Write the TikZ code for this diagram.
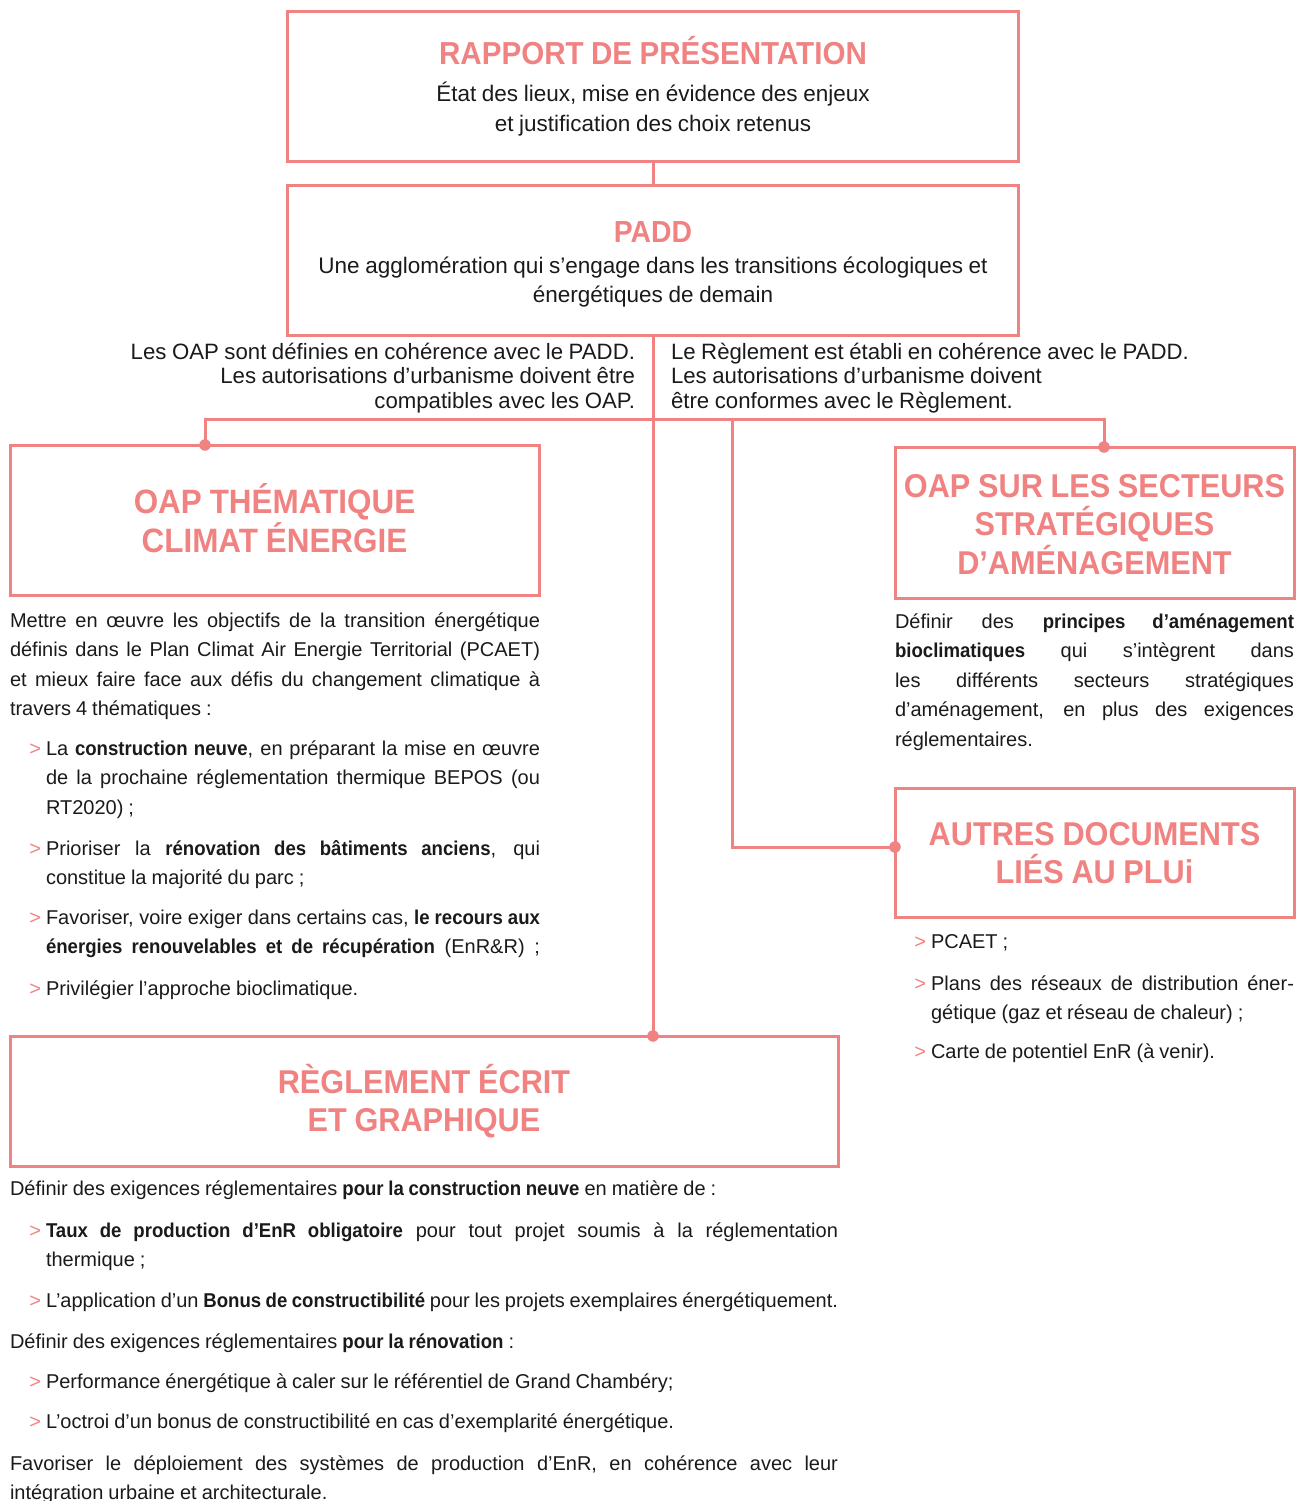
\documentclass[tikz,border=0pt]{standalone}
\usepackage{fontspec}
\setmainfont{Liberation Sans}[WordSpace=0.9, BoldFeatures={FakeStretch=0.93}]
\definecolor{coral}{RGB}{240,130,130}
\definecolor{ink}{RGB}{26,26,26}
\newcommand\titlefont{\fontsize{33}{38.5}\selectfont\bfseries}
\newcommand\titlefontbig{\fontsize{33.8}{39}\selectfont\bfseries}
\newcommand\titlefontrap{\fontsize{31.8}{34}\selectfont\bfseries}
\newcommand\titlefontsm{\fontsize{30.5}{34}\selectfont\bfseries}
\newcommand\subfont{\fontsize{22.5}{29.5}\selectfont}
\newcommand\connfont{\fontsize{22.2}{24.5}\selectfont}
\newcommand\bodyfont{\fontsize{20}{29.5}\selectfont}
\newcommand\blk[2]{\vtop{\hsize=#1pt\relax\parindent=0pt #2}}
\newcommand\jl[1]{\hbox to \hsize{#1}}
\newcommand\lastl[1]{\hbox to \hsize{#1\hfil}}
\newcommand\ctr[1]{\hbox to \hsize{\hfil#1\hfil}}
\newcommand\rgt[1]{\hbox to \hsize{\hfil#1}}
\newcommand\mybul{\llap{\textcolor{coral}{>}\hspace{5pt}}}
\begin{document}
\begin{tikzpicture}[x=1pt,y=-1pt,
  box/.style={draw=coral,line width=3pt,inner sep=0,outer sep=0},
  ttl/.style={text=coral,font=\titlefont,inner sep=0,outer sep=0},
  ttlbig/.style={text=coral,font=\titlefontbig,inner sep=0,outer sep=0},
  ttlrap/.style={text=coral,font=\titlefontrap,inner sep=0,outer sep=0},
  ttlsm/.style={text=coral,font=\titlefontsm,inner sep=0,outer sep=0},
  sub/.style={text=ink,font=\subfont,inner sep=0,outer sep=0},
  cnt/.style={text=ink,font=\connfont,inner sep=0,outer sep=0},
  txt/.style={text=ink,font=\bodyfont,inner sep=0,outer sep=0},
  conn/.style={draw=coral,line width=3pt},
  dot/.style={circle,fill=coral,inner sep=0,minimum size=11.5pt}]
\useasboundingbox (0,0) rectangle (1296,1501);

% boxes
\node[box,minimum width=731pt,minimum height=149pt] (rapport) at (653,86.5) {};
\node[box,minimum width=731pt,minimum height=150pt] (padd) at (653,260) {};
\node[box,minimum width=529pt,minimum height=150pt] (oapt) at (274.5,520) {};
\node[box,minimum width=399pt,minimum height=151pt] (oaps) at (1094.5,522.5) {};
\node[box,minimum width=399pt,minimum height=129pt] (autres) at (1094.5,852.5) {};
\node[box,minimum width=828pt,minimum height=130pt] (reg) at (424,1101) {};

% titles inside boxes
\node[ttlrap,anchor=base] (rapportT) at (653,65) {RAPPORT DE PRÉSENTATION};
\node[sub,anchor=base] (rapportS) at (653,102) {\blk{720}{\ctr{État des lieux, mise en évidence des enjeux}\ctr{et justification des choix retenus}}};
\node[ttlsm,anchor=base] (paddT) at (653,242) {PADD};
\node[sub,anchor=base] (paddS) at (653,273) {\blk{720}{\ctr{Une agglomération qui s’engage dans les transitions écologiques et}\ctr{énergétiques de demain}}};
\node[ttlbig,anchor=base] (oaptT) at (274.5,513) {\blk{520}{\ctr{OAP THÉMATIQUE}\ctr{CLIMAT ÉNERGIE}}};
\node[ttl,anchor=base] (oapsT) at (1094.5,497) {\blk{396}{\ctr{OAP SUR LES SECTEURS}\ctr{STRATÉGIQUES}\ctr{D’AMÉNAGEMENT}}};
\node[ttl,anchor=base] (autresT) at (1094.5,845) {\blk{396}{\ctr{AUTRES DOCUMENTS}\ctr{LIÉS AU PLUi}}};
\node[ttl,anchor=base] (regT) at (424,1093) {\blk{800}{\ctr{RÈGLEMENT ÉCRIT}\ctr{ET GRAPHIQUE}}};

% connector texts
\node[cnt,anchor=base east] (leftC) at (635,359) {\blk{520}{\rgt{Les OAP sont définies en cohérence avec le PADD.}\rgt{Les autorisations d’urbanisme doivent être}\rgt{compatibles avec les OAP.}}};
\node[cnt,anchor=base west] (rightC) at (671,359) {\blk{570}{\lastl{Le Règlement est établi en cohérence avec le PADD.}\lastl{Les autorisations d’urbanisme doivent}\lastl{être conformes avec le Règlement.}}};

% connectors
\coordinate (busL) at (205,419);
\coordinate (busR) at (1104,419);
\coordinate (branch) at (732,419);
\coordinate (regdot) at (padd.south |- reg.north);
\coordinate (oaptdot) at (oapt.north -| busL);
\coordinate (oapsdot) at (oaps.north -| busR);
\coordinate (adot) at ([yshift=5.5pt]autres.west);
\draw[conn] (rapport.south) -- (padd.north);
\draw[conn] (padd.south) -- (regdot);
\draw[conn] (oaptdot) -- (busL) -- (busR) -- (oapsdot);
\draw[conn] (branch) |- (adot);
\node[dot] (d1) at (oaptdot) {};
\node[dot] (d2) at (oapsdot) {};
\node[dot] (d3) at (adot) {};
\node[dot] (d4) at (regdot) {};

% OAP thematique text
\node[txt,anchor=base west] (p1) at (10,627) {\blk{530}{\jl{Mettre en œuvre les objectifs de la transition énergétique}\jl{définis dans le Plan Climat Air Energie Territorial (PCAET)}\jl{et mieux faire face aux défis du changement climatique à}\lastl{travers 4 thématiques :}}};
\node[txt,anchor=base west] (b1) at (46,755) {\blk{494}{\jl{\mybul La \textbf{construction neuve}, en préparant la mise en œuvre}\jl{de la prochaine réglementation thermique BEPOS (ou}\lastl{RT2020) ;}}};
\node[txt,anchor=base west] (b2) at (46,855) {\blk{494}{\jl{\mybul Prioriser la \textbf{rénovation des bâtiments anciens}, qui}\lastl{constitue la majorité du parc ;}}};
\node[txt,anchor=base west] (b3) at (46,924) {\blk{494}{\jl{\mybul Favoriser, voire exiger dans certains cas, \textbf{le recours aux}}\jl{\textbf{énergies renouvelables et de récupération} (EnR\&R) ;}}};
\node[txt,anchor=base west] (b4) at (46,995) {\blk{494}{\lastl{\mybul Privilégier l’approche bioclimatique.}}};

% OAP secteurs text
\node[txt,anchor=base west] (s1) at (895,628) {\blk{399}{\jl{Définir des \textbf{principes d’aménagement}}\jl{\textbf{bioclimatiques} qui s’intègrent dans}\jl{les différents secteurs stratégiques}\jl{d’aménagement, en plus des exigences}\lastl{réglementaires.}}};

% Autres documents bullets
\node[txt,anchor=base west] (a1) at (931,948) {\blk{363}{\lastl{\mybul PCAET ;}}};
\node[txt,anchor=base west] (a2) at (931,990) {\blk{363}{\jl{\mybul Plans des réseaux de distribution éner-}\lastl{gétique (gaz et réseau de chaleur) ;}}};
\node[txt,anchor=base west] (a3) at (931,1058) {\blk{363}{\lastl{\mybul Carte de potentiel EnR (à venir).}}};

% Reglement text
\node[txt,anchor=base west] (r1) at (10,1195) {\blk{828}{\lastl{Définir des exigences réglementaires \textbf{pour la construction neuve} en matière de :}}};
\node[txt,anchor=base west] (rb1) at (46,1237) {\blk{792}{\jl{\mybul\textbf{Taux de production d’EnR obligatoire} pour tout projet soumis à la réglementation}\lastl{thermique ;}}};
\node[txt,anchor=base west] (rb2) at (46,1307) {\blk{792}{\lastl{\mybul L’application d’un \textbf{Bonus de constructibilité} pour les projets exemplaires énergétiquement.}}};
\node[txt,anchor=base west] (r2) at (10,1348) {\blk{828}{\lastl{Définir des exigences réglementaires \textbf{pour la rénovation} :}}};
\node[txt,anchor=base west] (rb3) at (46,1388) {\blk{792}{\lastl{\mybul Performance énergétique à caler sur le référentiel de Grand Chambéry;}}};
\node[txt,anchor=base west] (rb4) at (46,1428) {\blk{792}{\lastl{\mybul L’octroi d’un bonus de constructibilité en cas d’exemplarité énergétique.}}};
\node[txt,anchor=base west] (r3) at (10,1470) {\blk{828}{\jl{Favoriser le déploiement des systèmes de production d’EnR, en cohérence avec leur}\lastl{intégration urbaine et architecturale.}}};
\end{tikzpicture}
\end{document}
